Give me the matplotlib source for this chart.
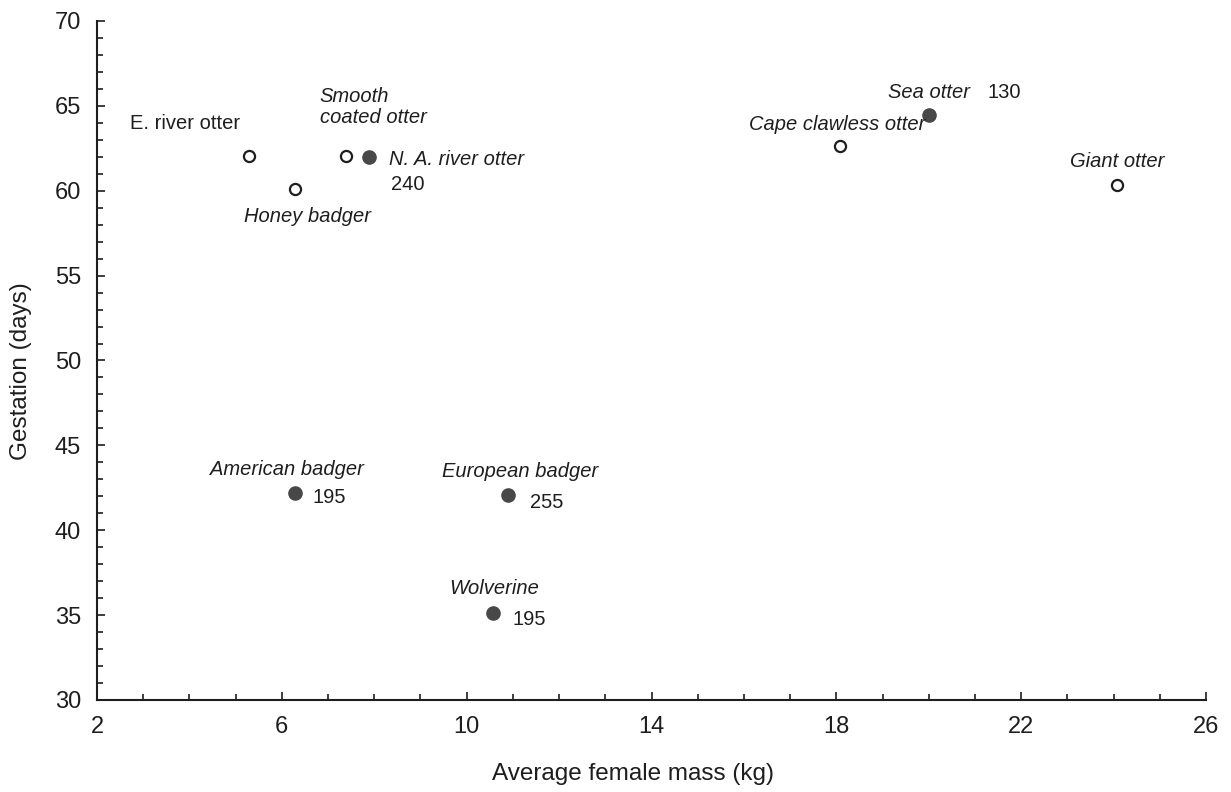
import numpy as np
from matplotlib import pyplot as plt
from matplotlib.ticker import MultipleLocator

plt.rcParams['font.family'] = ['Liberation Sans', 'DejaVu Sans']

# data
species = ['E. river otter', 'Smooth\ncoated otter', 'N. A. river otter', 'Honey badger',
           'Sea otter', 'Cape clawless otter', 'Giant otter',
           'American badger', 'European badger', 'Wolverine']
mass = [5.29, 7.39, 7.89, 6.28, 20.0, 18.08, 24.07, 6.28, 10.89, 10.57]
gestation = [62.05, 62.05, 62.0, 60.1, 64.45, 62.65, 60.35, 42.2, 42.05, 35.15]
filled = [False, False, True, False, True, False, False, True, True, True]
extra = ['', '', '240', '', '130', '', '', '195', '255', '195']

# label layout (offsets in points from the marker)
name_off = [(-86, 23), (-19, 35), (14, -2), (9, -20), (0, 16), (-2, 15), (0, 17),
            (-6, 17), (9, 17), (1, 17)]
name_ha = ['left', 'left', 'left', 'center', 'center', 'center', 'center',
           'center', 'center', 'center']
extra_off = [None, None, (16, -20), None, (42, 16), None, None, (13, -3), (16, -5), (14, -5)]

ink = '#1e1e1e'
dot = '#484848'

fig = plt.figure(figsize=(12.31, 7.92), dpi=100)
ax = fig.add_axes([0.0788, 0.1162, 0.901, 0.8573])

m = np.array(mass)
g = np.array(gestation)
f = np.array(filled)
ax.plot(m[~f], g[~f], 'o', ms=8, mfc='white', mec=ink, mew=1.6, ls='none', zorder=3)
ax.plot(m[f], g[f], 'o', ms=9.5, mfc=dot, mec=dot, ls='none', zorder=3)

for i, name in enumerate(species):
    style = 'normal' if i == 0 else 'italic'
    ax.annotate(name, (mass[i], gestation[i]), xytext=name_off[i], textcoords='offset points',
                ha=name_ha[i], va='center', fontsize=14.5, style=style, color=ink,
                linespacing=1.15)
    if extra[i]:
        ax.annotate(extra[i], (mass[i], gestation[i]), xytext=extra_off[i],
                    textcoords='offset points', ha='left', va='center', fontsize=14.5,
                    color=ink)

ax.set_xlim(2, 26)
ax.set_ylim(30, 70)
ax.set_xticks([2, 6, 10, 14, 18, 22, 26])
ax.set_yticks(np.arange(30, 71, 5))
ax.xaxis.set_minor_locator(MultipleLocator(1))
ax.yaxis.set_minor_locator(MultipleLocator(1))
ax.tick_params(which='both', direction='in', colors=ink, labelsize=17, width=1.2)
ax.tick_params(which='major', length=6, pad=11.5)
ax.tick_params(which='minor', length=4)
for side in ['top', 'right']:
    ax.spines[side].set_visible(False)
for side in ['left', 'bottom']:
    ax.spines[side].set_color(ink)
    ax.spines[side].set_linewidth(1.5)

ax.set_xlabel('Average female mass (kg)', fontsize=17.5, color=ink, labelpad=18,
              x=0.483, ha='center')
ax.set_ylabel('Gestation (days)', fontsize=17.5, color=ink, labelpad=16,
              y=0.485, ha='center')

fig.savefig('out.png', dpi=100)
